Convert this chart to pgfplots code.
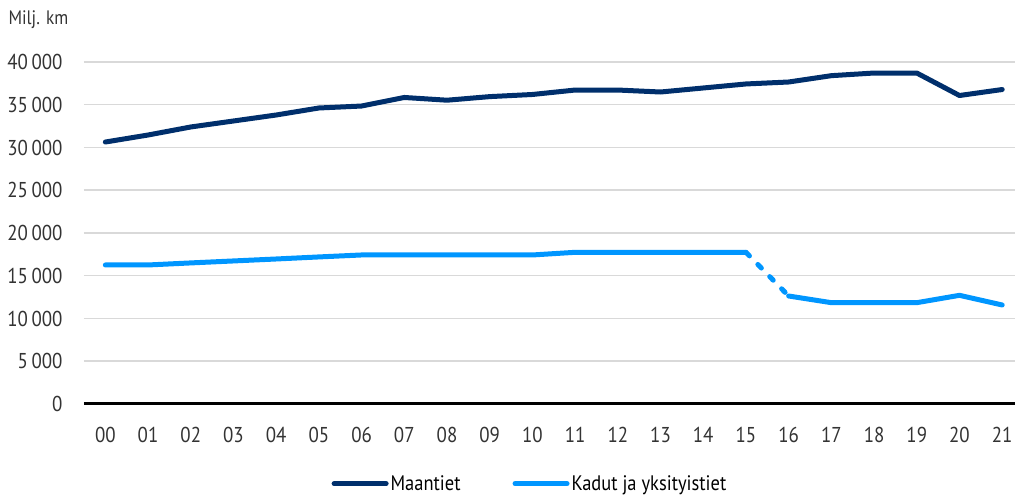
\documentclass[border=0pt]{standalone}
\usepackage{pgfplots}
\pgfplotsset{compat=1.18}
\usepackage{fontspec}
\setmainfont{PT Sans}[FakeStretch=0.88]
\definecolor{navy}{RGB}{0,47,108}
\definecolor{lblue}{RGB}{0,150,255}
\definecolor{gridc}{RGB}{217,217,217}
\begin{document}
\begin{tikzpicture}[x=1pt,y=1pt]
\useasboundingbox (0,0) rectangle (1015,497);
\begin{axis}[
  at={(84pt,93pt)}, anchor=south west,
  scale only axis, width=931pt, height=342pt,
  xmin=-0.5, xmax=21.3, ymin=0, ymax=40000,
  axis y line*=left, y axis line style={draw=none},
  axis x line*=bottom,
  x axis line style={black, line width=3pt, -},
  xtick={0,...,21},
  xticklabels={00,01,02,03,04,05,06,07,08,09,10,11,12,13,14,15,16,17,18,19,20,21},
  ytick={0,5000,...,40000},
  scaled y ticks=false,
  yticklabel={\pgfmathprintnumber[fixed,precision=0,1000 sep={\,},assume math mode=true]{\tick}},
  ymajorgrids, grid style={gridc, line width=1.5pt},
  major tick length=0pt,
  tick label style={font=\fontsize{21.5}{24}\selectfont, text=black!80},
  xticklabel style={yshift=-20pt},
  yticklabel style={xshift=-18pt},
  clip=false,
  legend columns=2,
  legend style={draw=none, fill=none, at={(0.479,-0.233)}, anchor=center,
    font=\fontsize{21}{24}\selectfont, text=black,
    /tikz/every even column/.append style={column sep=50pt}},
  legend image code/.code={\draw[#1, line cap=round] (0pt,0pt) -- (52pt,0pt);},
  every axis plot/.append style={line width=5pt, line join=round},
]
\addplot[navy, line cap=round] coordinates {
(0,30640)(1,31460)(2,32400)(3,33100)(4,33800)(5,34620)(6,34850)(7,35850)
(8,35530)(9,35950)(10,36200)(11,36720)(12,36720)(13,36490)(14,36960)
(15,37430)(16,37660)(17,38400)(18,38710)(19,38710)(20,36080)(21,36780)};
\addlegendentry{Maantiet}
\addplot[lblue, line cap=round] coordinates {
(0,16260)(1,16260)(2,16500)(3,16730)(4,16960)(5,17200)(6,17430)(7,17430)
(8,17430)(9,17430)(10,17430)(11,17740)(12,17740)(13,17740)(14,17740)(15,17740)};
\addlegendentry{Kadut ja yksityistiet}
\addplot[lblue, line cap=round, dash pattern=on 5pt off 12pt, forget plot] coordinates {(15,17740)(16,12630)};
\addplot[lblue, line cap=round, forget plot] coordinates {
(16,12630)(17,11850)(18,11850)(19,11850)(20,12710)(21,11580)};
\end{axis}
\node[anchor=west, font=\fontsize{19.5}{22}\selectfont, text=black!80] at (5,477) {Milj. km};
\end{tikzpicture}
\end{document}
